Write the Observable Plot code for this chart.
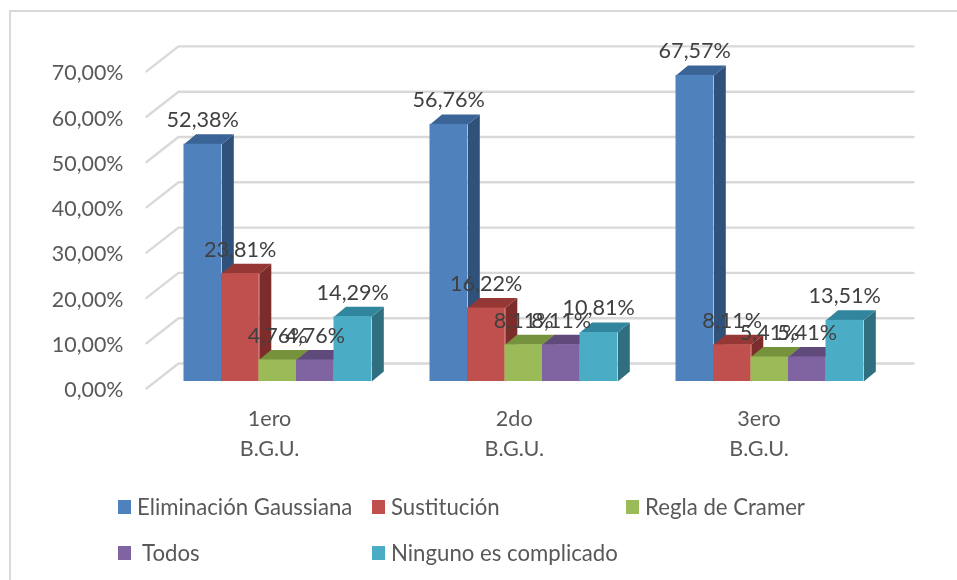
<!DOCTYPE html>
<html>
<head>
<meta charset="utf-8">
<script src="https://cdn.jsdelivr.net/npm/d3@7"></script>
<script src="https://cdn.jsdelivr.net/npm/@observablehq/plot@0.6"></script>
<style>
html,body{margin:0;padding:0;background:#fff;overflow:hidden;width:957px;height:580px}
#wrap{position:relative;width:957px;height:580px;font-family:Lato,sans-serif}
#frame{position:absolute;left:9px;top:10px;right:-4px;bottom:-4px;border-left:2px solid #d9d9d9;border-top:2px solid #d9d9d9}
#chart{position:absolute;left:0;top:0}
#chart svg{display:block;filter:blur(.5px)}
.leg{position:absolute;color:#595959;font-size:22.2px;line-height:24px;white-space:pre;filter:blur(.35px)}
.sw{position:absolute;width:13px;height:14px;filter:blur(.3px)}
</style>
</head>
<body>
<div id="wrap"><div id="frame"></div><div id="chart"></div></div>
<script>
const categories = ["1ero\nB.G.U.", "2do\nB.G.U.", "3ero\nB.G.U."];
const seriesNames = ["Eliminación Gaussiana", "Sustitución", "Regla de Cramer", " Todos", "Ninguno es complicado"];
const eliminacion = [52.38, 56.76, 67.57];
const sustitucion = [23.81, 16.22, 8.11];
const cramer = [4.76, 8.11, 5.41];
const todos = [4.76, 8.11, 5.41];
const ninguno = [14.29, 10.81, 13.51];
const seriesValues = [eliminacion, sustitucion, cramer, todos, ninguno];
const frontColors = ["#4f81bd", "#c0504d", "#9bbb59", "#8064a2", "#4bacc6"];
const sideColors = ["#30527a", "#7c2d2b", "#63793a", "#523f6a", "#2f6f80"];
const topColors = ["#3b6496", "#953735", "#76923c", "#604a7b", "#31859c"];
const yTicks = [0, 10, 20, 30, 40, 50, 60, 70];
const categoryTicks = [0.5, 1.495, 2.49];

const barW = 37.8 / 246, depthX = 12 / 246, depthY = 2.2;
const wallX = 32 / 246, wallRight = 767 / 246, wallBack = 3.97, wallFront = -1.55;
const fmt = v => v.toFixed(2).replace(".", ",") + "%";

const grid = yTicks.flatMap(v => [
  {x: 0, y: v + wallFront, z: v},
  {x: wallX, y: v + wallBack, z: v},
  {x: wallRight, y: v + wallBack, z: v}
]);

const barMarks = seriesValues.flatMap((vals, s) => {
  const bars = vals.map((v, c) => {
    const x1 = c + (1 + s) * (37.5 / 246);
    return {x1, x2: x1 + barW, v, c};
  });
  const side = bars.flatMap(b => [
    {x: b.x2, y: 0, z: b.c},
    {x: b.x2 + depthX, y: depthY, z: b.c},
    {x: b.x2 + depthX, y: b.v + depthY, z: b.c},
    {x: b.x2, y: b.v, z: b.c}
  ]);
  const top = bars.flatMap(b => [
    {x: b.x1, y: b.v, z: b.c},
    {x: b.x2, y: b.v, z: b.c},
    {x: b.x2 + depthX, y: b.v + depthY, z: b.c},
    {x: b.x1 + depthX, y: b.v + depthY, z: b.c}
  ]);
  return [
    Plot.line(side, {x: "x", y: "y", z: "z", fill: sideColors[s], stroke: "none"}),
    Plot.line(top, {x: "x", y: "y", z: "z", fill: topColors[s], stroke: "none"}),
    Plot.rect(bars, {x1: "x1", x2: "x2", y1: () => 0, y2: "v", fill: frontColors[s]})
  ];
});

const labels = seriesValues.flatMap((vals, s) => vals.map((v, c) => ({
  x: c + (1.5 + s) * (37.5 / 246), v, t: fmt(v)
})));

const plot = Plot.plot({
  width: 957,
  height: 490,
  marginLeft: 146,
  marginRight: 73,
  marginTop: 10,
  marginBottom: 88,
  style: {fontFamily: "Lato, sans-serif", background: "transparent", overflow: "visible"},
  x: {domain: [0, 3], range: [146, 884], label: null},
  y: {domain: [0, 80], range: [381, 381 - 4.53 * 80], label: null},
  marks: [
    Plot.line(grid, {x: "x", y: "y", z: "z", stroke: "#d9d9d9", strokeWidth: 2.4}),
    ...barMarks,
    Plot.text(labels, {x: "x", y: "v", text: "t", dy: -24, fontSize: 21.6, fill: "#404040"}),
    Plot.axisY({
      ticks: yTicks, tickSize: 0, tickPadding: 23, dy: 9, label: null,
      tickFormat: fmt, fontSize: 21.4, color: "#595959"
    }),
    Plot.axisX({
      ticks: categoryTicks, tickSize: 0, tickPadding: 2, label: null,
      tickFormat: t => categories[Math.floor(t)], fontSize: 21.6, lineHeight: 1.39, color: "#595959"
    })
  ]
});
document.getElementById("chart").appendChild(plot);

// Legend, below the SVG
const wrap = document.getElementById("wrap");
const legendSwatchX = [118, 372, 626, 118, 372];
const legendTextX = [137, 391, 645, 137, 391];
const legendY = [500, 500, 500, 546, 546];
seriesNames.forEach((name, i) => {
  const sw = document.createElement("div");
  sw.className = "sw";
  sw.style.cssText = `left:${legendSwatchX[i]}px;top:${legendY[i]}px;background:${frontColors[i]}`;
  const t = document.createElement("div");
  t.className = "leg";
  t.textContent = name;
  t.style.cssText = `left:${legendTextX[i]}px;top:${legendY[i] - 5}px`;
  wrap.append(sw, t);
});
</script>
</body>
</html>
